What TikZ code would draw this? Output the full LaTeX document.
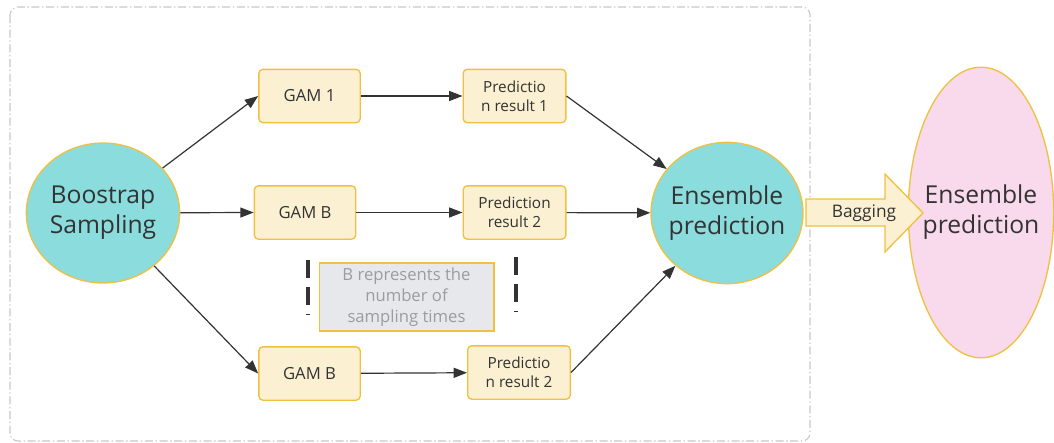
\documentclass[tikz,border=0pt]{standalone}
\usepackage{fontspec}
\setmainfont{Open Sans}
\usetikzlibrary{shapes.geometric,arrows.meta}
\definecolor{tealfill}{HTML}{8ADCDD}
\definecolor{goldline}{HTML}{F0C040}
\definecolor{creamfill}{HTML}{FBF0D2}
\definecolor{pinkfill}{HTML}{F9DAEC}
\definecolor{notefill}{HTML}{E6E8EC}
\definecolor{notetext}{HTML}{9C9C9C}
\definecolor{inkdark}{HTML}{333333}
\definecolor{frameline}{HTML}{C8C8C8}
\tikzset{bigoval/.style={ellipse,draw=goldline,line width=1pt,inner sep=0pt,
    label={[align=center,text=inkdark,font=\fontsize{18.5}{22.5}\selectfont]center:#1}}}
\tikzset{gambox/.style={draw=goldline,fill=creamfill,rounded corners=3pt,line width=1pt,
    minimum width=76pt,minimum height=40pt,align=center,text=inkdark,
    font=\fontsize{12.5}{15}\selectfont}}
\tikzset{predbox/.style={gambox,minimum width=77pt,font=\fontsize{11.5}{14.5}\selectfont}}
\tikzset{flow/.style={-{Triangle[length=10pt,width=7.5pt]},inkdark,line width=0.9pt}}

\begin{document}
\begin{tikzpicture}[x=0.75pt,y=-0.75pt]
                \useasboundingbox (0,0) rectangle (1054,443);
                
                % Frame
                \draw[frameline,line width=0.8pt,rounded corners=6pt,
                      dash pattern=on 6pt off 2pt on 1pt off 2pt] (10,7) rectangle (810,441);
                
                % Ovals
                \node[bigoval={Boostrap\\Sampling},fill=tealfill,minimum width=115pt,minimum height=105pt] (boot) at (103,213) {};
                \node[bigoval={Ensemble\\prediction},fill=tealfill,minimum width=114pt,minimum height=106pt] (ens) at (727,213) {};
                \node[bigoval={Ensemble\\prediction},fill=pinkfill,minimum width=109pt,minimum height=218pt] (final) at (981,212.5) {};
                
                % Models
                \node[gambox] (gamA) at (309.5,96) {GAM 1};
                \node[gambox] (gamB) at (305,212.5) {GAM B};
                \node[gambox] (gamC) at (309.5,373.5) {GAM B};
                
                % Results
                \node[predbox] (predA) at (514.5,96) {Predictio\\n result 1};
                \node[predbox] (predB) at (514.5,212.5) {Prediction\\result 2};
                \node[predbox] (predC) at (519,372.5) {Predictio\\n result 2};
                
                % Note
                \node[draw=goldline,fill=notefill,line width=1pt,minimum width=131pt,minimum height=51pt,
                      align=center,text=notetext,font=\fontsize{12.5}{16}\selectfont] (note) at (406.5,297)
                      {B represents the\\number of\\sampling times};
                \draw[inkdark,line width=2.6pt,dash pattern=on 13.5pt off 6.75pt] (308,260) -- (308,315);
                \draw[inkdark,line width=2.6pt,dash pattern=on 13.5pt off 6.75pt] (516,257) -- (516,312);
                
                % Arrows
                \draw[flow] (boot) -- (gamA.west);
                \draw[flow] (boot) -- (gamB.west);
                \draw[flow] (boot) -- (gamC.west);
                \draw[flow] (gamA) -- (predA);
                \draw[flow] (gamB) -- (predB);
                \draw[flow] (gamC) -- (predC);
                \draw[flow] (predA.east) -- (ens);
                \draw[flow] (predB) -- (ens);
                \draw[flow] (predC.east) -- (ens);
                
                % Bagging
                \filldraw[draw=goldline,fill=creamfill,line width=1pt] (806,199) -- (885,199) -- (885,174)
                      -- (923,213) -- (885,252) -- (885,226) -- (806,226) -- cycle;
                \node[text=inkdark,font=\fontsize{13}{15}\selectfont] (bag) at (864,213) {Bagging};
            \end{tikzpicture}
\end{document}
